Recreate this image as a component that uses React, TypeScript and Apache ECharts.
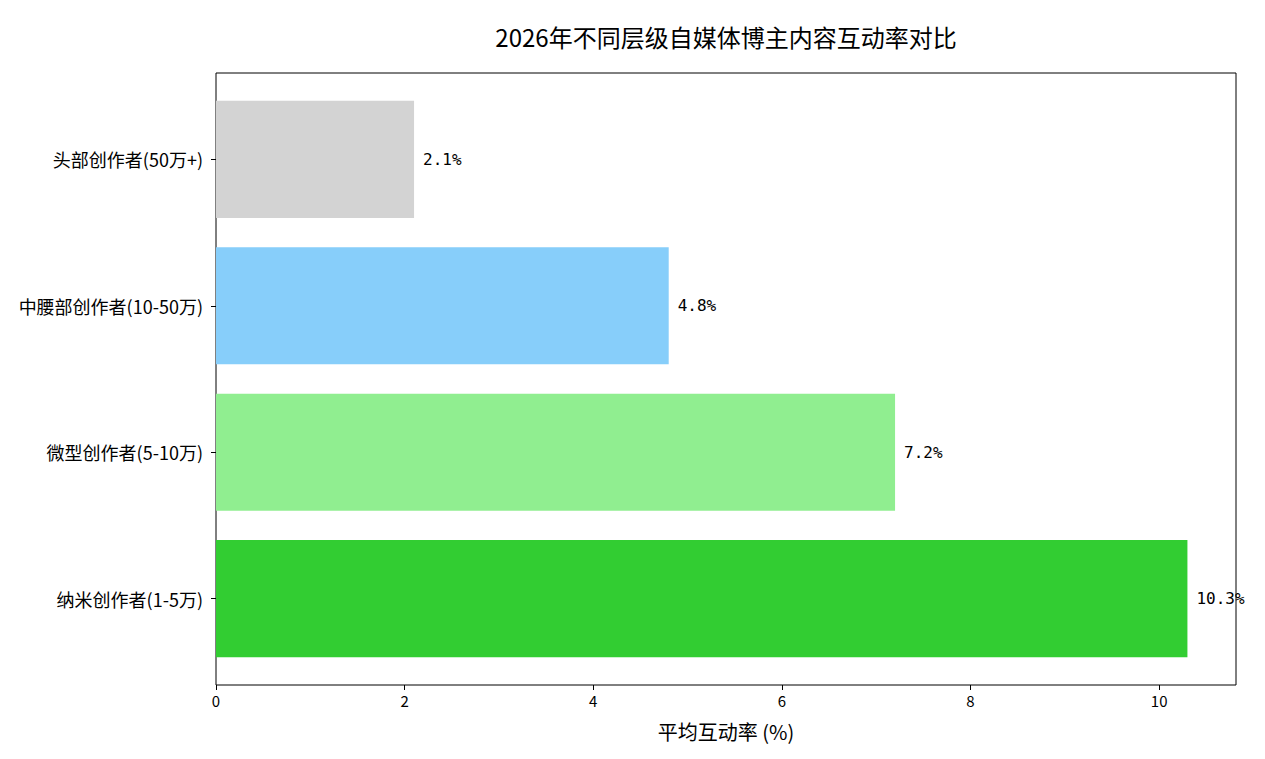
import React, { useEffect, useRef } from "react";
import * as echarts from "echarts";

const categories = ["头部创作者(50万+)", "中腰部创作者(10-50万)", "微型创作者(5-10万)", "纳米创作者(1-5万)"];
const values = [2.1, 4.8, 7.2, 10.3];
const colors = ["#d3d3d3", "#87cefa", "#90ee90", "#32cd32"];
const xTicks = [0, 2, 4, 6, 8, 10];
const title = "2026年不同层级自媒体博主内容互动率对比";
const xName = "平均互动率 (%)";

const FONT = "'Noto Sans CJK SC', 'DejaVu Sans', sans-serif";

export default function App() {
  const ref = useRef<HTMLDivElement>(null);
  useEffect(() => {
    if (!ref.current) return;
    const chart = echarts.init(ref.current, null, { renderer: "svg" });
    const xMax = 10.3 * 1.05;
    const plotTop = 73, plotBottom = 685, plotLeft = 216, plotRight = 1236;
    const plotH = plotBottom - plotTop;
    const unit = plotH / (3 + 0.8 + 0.1 * 3.8); // matplotlib margins
    const innerTop = plotTop + (0.05 * 3.8 - 0.1) * unit;
    chart.setOption({
      animation: false,
      backgroundColor: "#ffffff",
      title: {
        text: title,
        left: 725 - 8 - 4,
        top: 11,
        textAlign: "center",
        textStyle: { fontFamily: FONT, fontSize: 24, fontWeight: "normal", color: "#000" },
      },
      grid: [
        {
          left: plotLeft - 8, top: plotTop - 8, width: plotRight - plotLeft, height: plotH,
          show: true, borderColor: "#000", borderWidth: 1, backgroundColor: "transparent",
        },
        {
          left: plotLeft - 8, top: innerTop - 8, width: plotRight - plotLeft, height: unit * 4,
        },
      ],
      xAxis: [
        {
          gridIndex: 0, type: "value", min: 0, max: xMax,
          axisLine: { show: false },
          splitLine: { show: false },
          axisTick: { show: true, length: 5, inside: false, customValues: xTicks, lineStyle: { color: "#000" } },
          axisLabel: { customValues: xTicks, color: "#000", fontSize: 15, fontFamily: FONT, margin: 8 },
          name: xName, nameLocation: "middle", nameGap: 36,
          nameTextStyle: { fontFamily: FONT, fontSize: 20, color: "#000" },
        },
        {
          gridIndex: 1, type: "value", min: 0, max: xMax, show: false,
        },
      ],
      yAxis: [
        {
          gridIndex: 0, type: "value", show: false,
        },
        {
          gridIndex: 1, type: "category", data: categories, inverse: true,
          axisLine: { show: false },
          axisTick: { show: true, alignWithLabel: true, length: 5, lineStyle: { color: "#000" } },
          axisLabel: { color: "#000", fontSize: 18, fontFamily: FONT, margin: 13 },
        },
      ],
      series: [
        {
          type: "bar",
          xAxisIndex: 1, yAxisIndex: 1,
          barWidth: unit * 0.8,
          data: values.map((v, i) => ({ value: v, itemStyle: { color: colors[i] } })),
          label: {
            show: true, position: "right", distance: 9,
            formatter: (p: any) => p.value.toFixed(1) + "%",
            fontFamily: "'DejaVu Sans Mono', monospace", fontSize: 16, color: "#000",
          },
        },
      ],
    });
    return () => chart.dispose();
  }, []);
  return <div ref={ref} style={{ width: 1265 - 16, height: 759 - 16 }} />;
}
